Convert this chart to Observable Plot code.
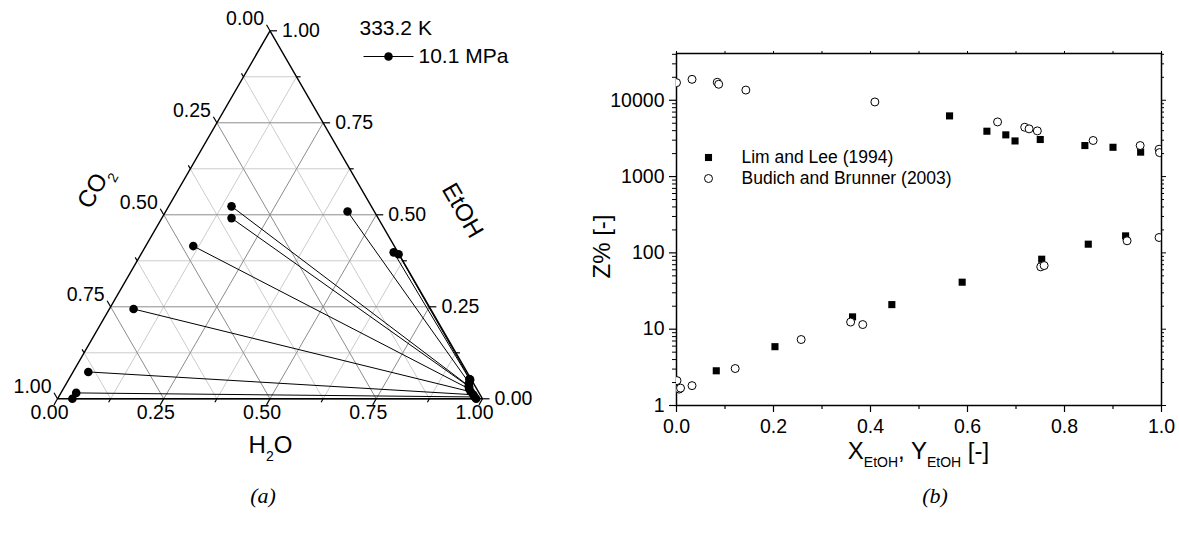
<!DOCTYPE html>
<html>
<head>
<meta charset="utf-8">
<script src="https://cdn.jsdelivr.net/npm/d3@7"></script>
<script src="https://cdn.jsdelivr.net/npm/@observablehq/plot@0.6"></script>
<style>
  html, body { margin: 0; padding: 0; background: #fff; }
  body { width: 1179px; height: 533px; position: relative; overflow: hidden; font-family: "Liberation Sans", Arial, sans-serif; }
  #panelA { position: absolute; left: 0; top: 0; }
  #panelB { position: absolute; left: 590px; top: 0; }
  .cap { position: absolute; top: 483px; font-family: "Liberation Serif", "Times New Roman", serif; font-style: italic; font-size: 22px; transform: translateX(-50%); }
</style>
</head>
<body>
<div id="panelA"></div>
<div id="panelB"></div>
<div class="cap" style="left:263px">(a)</div>
<div class="cap" style="left:935px">(b)</div>
<script>
// ---------- (a) CO2 / EtOH / H2O tie-lines, 333.2 K, 10.1 MPa (mole fractions) ----------
const vaporCO2   = [0.329, 0.345, 0.473, 0.699, 0.891, 0.948, 0.965, 0.063, 0.010, 0.001];
const vaporEtOH  = [0.523, 0.491, 0.415, 0.244, 0.073, 0.016, 0.000, 0.509, 0.398, 0.393];
const liquidCO2  = [0.015, 0.015, 0.018, 0.018, 0.016, 0.016, 0.015, 0.010, 0.004, 0.003];
const liquidEtOH = [0.035, 0.033, 0.027, 0.019, 0.011, 0.005, 0.000, 0.043, 0.054, 0.052];
const ternaryTicks = [0, 0.25, 0.5, 0.75, 1];
const temperatureLabel = "333.2 K";
const pressureLabel = "10.1 MPa";

// ---------- (b) Z% versus ethanol mole fraction ----------
const limLeeX = [0.563, 0.640, 0.679, 0.698, 0.750, 0.842, 0.900, 0.957,
                 0.082, 0.203, 0.363, 0.444, 0.589, 0.753, 0.849, 0.926];
const limLeeZ = [6240, 3930, 3520, 2930, 3060, 2550, 2420, 2090,
                 2.85, 5.9, 14.5, 21, 41.3, 82.6, 130, 167];
const budichX = [0.000, 0.032, 0.084, 0.087, 0.143, 0.409, 0.662, 0.718, 0.727, 0.744, 0.859, 0.956, 0.995, 0.996,
                 0.001, 0.0055, 0.0083, 0.032, 0.121, 0.257, 0.359, 0.384, 0.751, 0.758, 0.929, 0.995];
const budichZ = [17000, 18800, 17200, 16200, 13600, 9500, 5200, 4430, 4220, 3970, 2970, 2550, 2280, 2060,
                 2.12, 1.64, 1.69, 1.82, 3.05, 7.32, 12.4, 11.5, 65.6, 68.2, 144, 159];
const xTicks = [0, 0.2, 0.4, 0.6, 0.8, 1.0];
const zTicks = [1, 10, 100, 1000, 10000];
const legendLabels = ["Lim and Lee (1994)", "Budich and Brunner (2003)"];

const FONT = "'Liberation Sans', Arial, sans-serif";

// Ternary -> cartesian (unit triangle: CO2 bottom-left, H2O bottom-right, EtOH apex)
const tern = (co2, etoh, h2o) => ({X: h2o + etoh / 2, Y: etoh});
const SIDE = 425, HEIGHT = 368;               // pixel extent of the triangle
const off = (p, dir, len) => ({X: p.X + dir[0] * len / SIDE, Y: p.Y - dir[1] * len / HEIGHT});

const vapor = vaporCO2.map((c, i) => tern(c, vaporEtOH[i], 1 - c - vaporEtOH[i]));
const liquid = liquidCO2.map((c, i) => tern(c, liquidEtOH[i], 1 - c - liquidEtOH[i]));
const ties = vapor.map((v, i) => ({a: v, b: liquid[i]}));

// grid lines every 1/8, darker on the labelled quarters
const steps = d3.range(1, 8).map(i => i / 8);
const grid = [];
for (const c of steps) {
  const major = Number.isInteger(c * 4);
  grid.push({a: tern(1 - c, c, 0), b: tern(0, c, 1 - c), major});   // EtOH = c
  grid.push({a: tern(1 - c, 0, c), b: tern(0, 1 - c, c), major});   // H2O = c
  grid.push({a: tern(c, 0, 1 - c), b: tern(c, 1 - c, 0), major});   // CO2 = c
}

const edges = [
  {key: "bottom", at: t => tern(1 - t, 0, t), dir: [-0.5, 0.866]},
  {key: "right",  at: t => tern(0, t, 1 - t), dir: [1, 0]},
  {key: "left",   at: t => tern(t, 1 - t, 0), dir: [-0.5, -0.866]}
];
const tickSteps = d3.range(0, 9).map(i => i / 8);
const tickLinks = [];
const tickLabels = {bottom: [], right: [], left: []};
for (const e of edges) {
  for (const t of tickSteps) {
    const major = Number.isInteger(t * 4);
    const p = e.at(t);
    tickLinks.push({a: p, b: off(p, e.dir, major ? 7 : 4)});
  }
  for (const t of ternaryTicks) tickLabels[e.key].push({...e.at(t), label: d3.format(".2f")(t)});
}
const outline = [tern(1, 0, 0), tern(0, 0, 1), tern(0, 1, 0), tern(1, 0, 0)];

const lineSymbol = {draw(ctx) { ctx.moveTo(-25, 0); ctx.lineTo(25, 0); }};

const chartA = Plot.plot({
  width: 590, height: 470,
  marginLeft: 0, marginRight: 0, marginTop: 0, marginBottom: 0,
  x: {domain: [0, 1], range: [57, 482], axis: null},
  y: {domain: [0, 1], range: [398.3, 30.3], axis: null},
  style: {fontFamily: FONT, color: "black", background: "white", overflow: "visible"},
  marks: [
    Plot.link(grid.filter(d => !d.major), {x1: d => d.a.X, y1: d => d.a.Y, x2: d => d.b.X, y2: d => d.b.Y, stroke: "#cccccc", strokeWidth: 1}),
    Plot.link(grid.filter(d => d.major), {x1: d => d.a.X, y1: d => d.a.Y, x2: d => d.b.X, y2: d => d.b.Y, stroke: "#8c8c8c", strokeWidth: 1}),
    Plot.line(outline, {x: "X", y: "Y", stroke: "black", strokeWidth: 1.4}),
    Plot.link(tickLinks, {x1: d => d.a.X, y1: d => d.a.Y, x2: d => d.b.X, y2: d => d.b.Y, stroke: "black", strokeWidth: 1.2}),
    Plot.text(tickLabels.bottom, {x: "X", y: "Y", text: "label", dx: -8, dy: 14, textAnchor: "middle", lineAnchor: "middle", fontSize: 19.5}),
    Plot.text(tickLabels.right, {x: "X", y: "Y", text: "label", dx: 12, dy: 0, textAnchor: "start", lineAnchor: "middle", fontSize: 19.5}),
    Plot.text(tickLabels.left, {x: "X", y: "Y", text: "label", dx: -6, dy: -12, textAnchor: "end", lineAnchor: "middle", fontSize: 19.5}),
    Plot.link(ties, {x1: d => d.a.X, y1: d => d.a.Y, x2: d => d.b.X, y2: d => d.b.Y, stroke: "black", strokeWidth: 1}),
    Plot.dot(liquid, {x: "X", y: "Y", r: 4.3, fill: "black"}),
    Plot.dot(vapor, {x: "X", y: "Y", r: 4.3, fill: "black"}),
    // axis titles
    Plot.text(["CO2"], {text: d => d, frameAnchor: "top-left", dx: 94, dy: 187, rotate: -60, fontSize: 24, textAnchor: "middle", lineAnchor: "middle"}),
    Plot.text(["EtOH"], {text: d => d, frameAnchor: "top-left", dx: 462, dy: 210, rotate: 60, fontSize: 24, textAnchor: "middle", lineAnchor: "middle"}),
    Plot.text(["H2O"], {text: d => d, frameAnchor: "top-left", dx: 270, dy: 445, fontSize: 24, textAnchor: "middle", lineAnchor: "middle"}),
    // legend
    Plot.text([temperatureLabel], {text: d => d, frameAnchor: "top-left", dx: 359, dy: 28, fontSize: 21, textAnchor: "start", lineAnchor: "middle"}),
    Plot.dot([pressureLabel], {frameAnchor: "top-left", dx: 388, dy: 56, symbol: lineSymbol, stroke: "black", strokeWidth: 1, fill: "none"}),
    Plot.dot([pressureLabel], {frameAnchor: "top-left", dx: 388, dy: 56, r: 4.3, fill: "black"}),
    Plot.text([pressureLabel], {text: d => d, frameAnchor: "top-left", dx: 418, dy: 56, fontSize: 21, textAnchor: "start", lineAnchor: "middle"})
  ]
});

const zMinor = [];
for (let p = 1; p <= 10000; p *= 10) for (let k = 2; k <= 9; k++) if (k * p <= 41000) zMinor.push(k * p);
const xAll = d3.range(0, 11).map(i => i / 10);
const xMinor = xAll.filter(v => !xTicks.some(t => Math.abs(t - v) < 1e-9));
const blank = () => "";

// panel (b) frame: offsets below are measured from the plot frame's top-left corner
const mL = 86, mT = 53;
const chartB = Plot.plot({
  width: 589, height: 470,
  marginLeft: mL, marginRight: 18, marginTop: mT, marginBottom: 65,
  x: {domain: [0, 1]},
  y: {type: "log", domain: [1, 41000]},
  style: {fontFamily: FONT, color: "black", background: "white", overflow: "visible"},
  marks: [
    Plot.axisX({ticks: xTicks, tickSize: 7, tickPadding: 7, tickFormat: d3.format(".1f"), fontSize: 19.5, label: null, strokeWidth: 1.2}),
    Plot.axisX({ticks: xMinor, tickSize: 4, tickFormat: blank, label: null, strokeWidth: 1.2}),
    Plot.axisX({anchor: "top", ticks: xAll, tickSize: 3, tickFormat: blank, label: null}),
    Plot.axisY({ticks: zTicks, tickSize: 7, tickPadding: 5, tickFormat: d => String(d), fontSize: 19.5, label: null, strokeWidth: 1.2}),
    Plot.axisY({ticks: zMinor, tickSize: 4, tickFormat: blank, label: null}),
    Plot.axisY({anchor: "right", ticks: zTicks, tickSize: 4, tickFormat: blank, label: null}),
    Plot.axisY({anchor: "right", ticks: zMinor, tickSize: 2, tickFormat: blank, label: null}),
    Plot.frame({stroke: "black", strokeWidth: 1.5}),
    Plot.dot(limLeeX, {x: d => d, y: (d, i) => limLeeZ[i], symbol: "square", r: 4, fill: "black", clip: true}),
    Plot.dot(budichX, {x: d => d, y: (d, i) => budichZ[i], symbol: "circle", r: 4, fill: "white", stroke: "black", strokeWidth: 1, clip: true}),
    // legend
    Plot.dot([legendLabels[0]], {frameAnchor: "top-left", dx: 118 - mL, dy: 157 - mT, symbol: "square", r: 4, fill: "black"}),
    Plot.dot([legendLabels[1]], {frameAnchor: "top-left", dx: 118 - mL, dy: 178 - mT, symbol: "circle", r: 4, fill: "white", stroke: "black", strokeWidth: 1}),
    Plot.text([legendLabels[0]], {text: d => d, frameAnchor: "top-left", dx: 151 - mL, dy: 157 - mT, fontSize: 17.5, textAnchor: "start", lineAnchor: "middle"}),
    Plot.text([legendLabels[1]], {text: d => d, frameAnchor: "top-left", dx: 151 - mL, dy: 178 - mT, fontSize: 17.5, textAnchor: "start", lineAnchor: "middle"}),
    // axis titles
    Plot.text(["Z% [-]"], {text: d => d, frameAnchor: "top-left", dx: 12 - mL, dy: 246 - mT, rotate: -90, fontSize: 24, textAnchor: "middle", lineAnchor: "middle"}),
    Plot.text(["XEtOH, YEtOH [-]"], {text: d => d, frameAnchor: "top-left", dx: 328 - mL, dy: 451 - mT, fontSize: 24, textAnchor: "middle", lineAnchor: "middle"})
  ]
});

// rebuild titles with subscript tspans
function subscript(svg, content, parts) {
  d3.select(svg).selectAll("text").filter(function() { return this.textContent === content; })
    .each(function() {
      const t = d3.select(this).text(null);
      let shift = 0;
      for (const [s, sub] of parts) {
        const target = sub ? 8 : 0;
        const ts = t.append("tspan").text(s);
        if (sub) ts.attr("font-size", 14);
        if (target !== shift) ts.attr("dy", target - shift);
        shift = target;
      }
    });
}
subscript(chartA, "CO2", [["CO", false], ["2", true]]);
subscript(chartA, "H2O", [["H", false], ["2", true], ["O", false]]);
subscript(chartB, "XEtOH, YEtOH [-]", [["X", false], ["EtOH", true], [", Y", false], ["EtOH", true], [" [-]", false]]);

document.getElementById("panelA").appendChild(chartA);
document.getElementById("panelB").appendChild(chartB);
</script>
</body>
</html>
